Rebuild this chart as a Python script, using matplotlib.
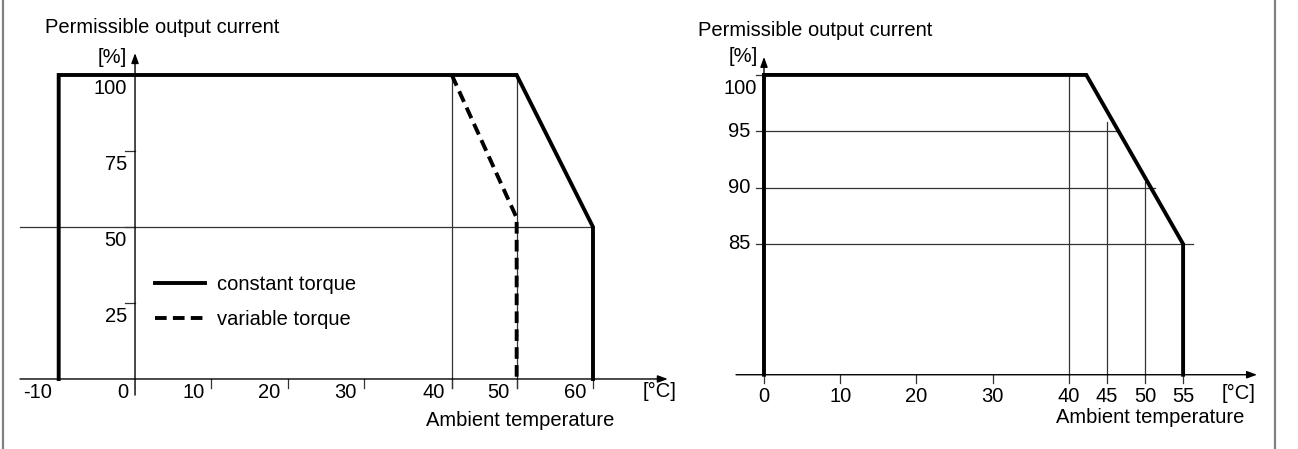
import matplotlib
matplotlib.use("Agg")
import matplotlib.pyplot as plt
from matplotlib.lines import Line2D
import numpy as np

plt.rcParams['font.family'] = ['Liberation Sans', 'DejaVu Sans']
FS = 14.5

# ---- left chart data ----
const_temp = [-10, -10, 50, 60, 60]
const_curr = [0, 100, 100, 50, 0]
var_temp = [41.5, 50, 50]
var_curr = [100, 53, 0]
left_xtick_pos = [-10, 0, 10, 20, 30, 41.5, 50, 60]
left_xtick_lbl = ['-10', '0', '10', '20', '30', '40', '50', '60']
left_ytick_pos = [25, 50, 75, 100]
left_ytick_lbl = ['25', '50', '75', '100']

# ---- right chart data ----
r_temp = [0, 0, 42.3, 55, 55]
r_curr = [0, 100, 100, 85, 0]
r_xtick_pos = [0, 10, 20, 30, 40, 45, 50, 55]
r_xtick_lbl = ['0', '10', '20', '30', '40', '45', '50', '55']
r_ytick_pos = [100, 95, 90, 85]
r_ytick_lbl = ['100', '95', '90', '85']
r_vguide_x = [40, 45, 50]
r_vguide_top = [100, 95.8, 90.5]
r_hguide_y = [95, 90, 85]
r_hguide_end = [46.3, 51.3, 56.3]

R_BASE = 73.4  # where the (broken) right y axis meets the x axis

THICK = 2.8
THIN = 0.9
GREY = '#333333'

fig = plt.figure(figsize=(12.98, 4.49), dpi=100)
axL = fig.add_axes([0, 0, 690 / 1298, 1])
axR = fig.add_axes([690 / 1298, 0, 608 / 1298, 1])
for ax in (axL, axR):
    ax.set_axis_off()

axL.set_xlim(-17.69, 72.71)
axL.set_ylim(-23.03, 124.67)
axR.set_xlim(-9.71, 70.08)
axR.set_ylim(66.81, 106.65)


def arrow(ax, start, tip):
    ax.annotate('', xy=tip, xytext=start,
                arrowprops=dict(arrowstyle='-|>,head_length=0.6,head_width=0.22',
                                lw=1.0, color='k', shrinkA=0, shrinkB=0,
                                mutation_scale=10))


# ================= left chart =================
arrow(axL, (-15.07, 0), (69.8, 0))
arrow(axL, (0, -5.3), (0, 107.2))

# guides
axL.plot([-15.07, 60], [50, 50], color=GREY, lw=THIN)
axL.plot([var_temp[0], var_temp[0]], [-3, 99], color=GREY, lw=THIN)
axL.plot([50, 50], [-3, 100], color=GREY, lw=THIN)

# x tick marks below axis
for x in left_xtick_pos:
    if x > 0:
        axL.plot([x, x], [0, -3], color=GREY, lw=THIN)
# y tick marks left of axis
for y in left_ytick_pos:
    axL.plot([-1.3, 0], [y, y], color=GREY, lw=THIN)

axL.plot(const_temp, const_curr, color='k', lw=THICK, solid_joinstyle='miter',
         label='constant torque')
axL.plot(var_temp, var_curr, color='k', lw=THICK, linestyle=(0, (3, 1.6)),
         label='variable torque')

for x, lbl in zip(left_xtick_pos, left_xtick_lbl):
    axL.annotate(lbl, (x, 0), xytext=(-5, -10), textcoords='offset points',
                 ha='right', va='center', fontsize=FS)
for y, lbl in zip(left_ytick_pos, left_ytick_lbl):
    axL.annotate(lbl, (0, y), xytext=(-5.8, -10), textcoords='offset points',
                 ha='right', va='center', fontsize=FS)

axL.text(-11.8, 115.5, 'Permissible output current', ha='left', va='center', fontsize=FS)
axL.text(-1.05, 105.6, '[%]', ha='right', va='center', fontsize=FS)
axL.text(66.55, -3.95, '[°C]', ha='left', va='center', fontsize=FS)
axL.text(50.4, -13.5, 'Ambient temperature', ha='center', va='center', fontsize=FS)

axL.legend(loc='upper left', bbox_to_anchor=(0.224, 0.387), frameon=False,
           fontsize=FS, handlelength=2.5, handletextpad=0.6, labelspacing=0.8,
           borderaxespad=0, borderpad=0)

# ================= right chart =================
arrow(axR, (-3.67, R_BASE), (64.7, R_BASE))
arrow(axR, (0, R_BASE), (0, 101.6))

for x, top in zip(r_vguide_x, r_vguide_top):
    axR.plot([x, x], [R_BASE, top], color=GREY, lw=THIN)
for y, end in zip(r_hguide_y, r_hguide_end):
    axR.plot([-1.05, end], [y, y], color=GREY, lw=THIN)
axR.plot([-1.05, 0], [100, 100], color=GREY, lw=THIN)

for x in r_xtick_pos:
    axR.plot([x, x], [R_BASE, R_BASE - 0.71], color=GREY, lw=THIN)

axR.plot(r_temp, np.maximum(r_curr, R_BASE), color='k', lw=THICK,
         solid_joinstyle='miter')

for x, lbl in zip(r_xtick_pos, r_xtick_lbl):
    axR.annotate(lbl, (x, R_BASE), xytext=(0, -15.8), textcoords='offset points',
                 ha='center', va='center', fontsize=FS)
for y, lbl in zip(r_ytick_pos, r_ytick_lbl):
    off = (-5, -9.4) if y == 100 else (-10, 0)
    axR.annotate(lbl, (0, y), xytext=off, textcoords='offset points',
                 ha='right', va='center', fontsize=FS)

axR.text(-8.66, 103.9, 'Permissible output current', ha='left', va='center', fontsize=FS)
axR.text(-0.79, 101.6, '[%]', ha='right', va='center', fontsize=FS)
axR.text(60.1, 71.78, '[°C]', ha='left', va='center', fontsize=FS)
axR.text(50.66, 69.57, 'Ambient temperature', ha='center', va='center', fontsize=FS)

# outer frame lines
for xp in (3, 1275):
    fig.add_artist(Line2D([xp / 1298, xp / 1298], [0, 1], color='#808080', lw=1.6))

fig.savefig('out.png', dpi=100)
